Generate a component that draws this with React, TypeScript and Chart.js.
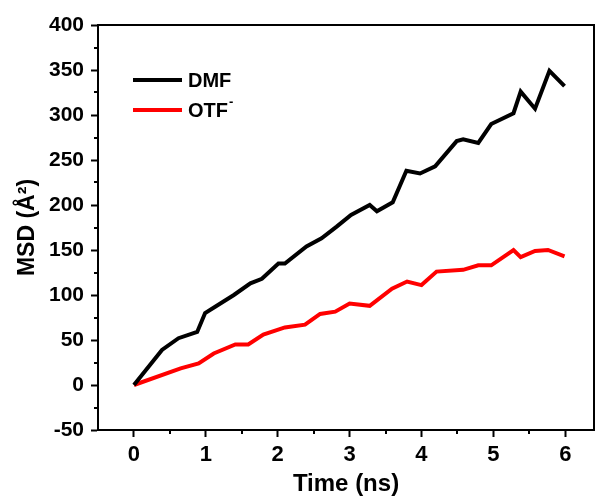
import React, { useEffect, useRef } from "react";
import { Chart, registerables } from "chart.js";

Chart.register(...registerables);

const dmfTime = [0, 0.39, 0.62, 0.88, 0.99, 1.13, 1.39, 1.62, 1.78, 2.01, 2.1, 2.4, 2.61, 2.82, 3.02, 3.28, 3.38, 3.6, 3.79, 3.98, 4.19, 4.49, 4.58, 4.79, 4.97, 5.28, 5.38, 5.58, 5.78, 5.99];
const dmfMsd = [0, 39, 52, 59, 80, 87, 100, 113, 118, 135, 135, 154, 163, 176, 189, 200, 193, 203, 238, 235, 243, 271, 273, 269, 290, 302, 326, 307, 349, 332];

const otfTime = [0, 0.65, 0.9, 1.11, 1.41, 1.59, 1.8, 2.1, 2.38, 2.59, 2.8, 3.0, 3.28, 3.59, 3.8, 4.0, 4.21, 4.58, 4.79, 4.97, 5.28, 5.38, 5.58, 5.76, 5.99];
const otfMsd = [0, 18.5, 24, 35, 45, 45, 56, 64, 67, 79, 81.5, 90.5, 88, 107, 115, 111, 126, 128, 133, 133, 150, 142, 149, 150, 143];

const xTicks = [0, 1, 2, 3, 4, 5, 6];
const xMinorTicks = [0.5, 1.5, 2.5, 3.5, 4.5, 5.5];
const yMinorTicks = [-25, 25, 75, 125, 175, 225, 275, 325, 375];

const seriesNames = ["DMF", "OTF"];
const seriesColors = ["#000000", "#ff0000"];

const FONT = "Arial, 'Liberation Sans', sans-serif";

const framePlugin = {
  id: "framePlugin",
  afterDraw(chart: any) {
    const { ctx, chartArea, scales } = chart;
    const xs = scales.x;
    const ys = scales.y;
    ctx.save();
    ctx.strokeStyle = "#000";
    ctx.lineWidth = 2;
    // top and right border
    ctx.beginPath();
    ctx.moveTo(chartArea.left - 1, chartArea.top);
    ctx.lineTo(chartArea.right, chartArea.top);
    ctx.lineTo(chartArea.right, chartArea.bottom);
    ctx.stroke();
    // minor ticks
    yMinorTicks.forEach((v) => {
      const y = Math.round(ys.getPixelForValue(v));
      ctx.beginPath();
      ctx.moveTo(chartArea.left - 4, y);
      ctx.lineTo(chartArea.left, y);
      ctx.stroke();
    });
    xMinorTicks.forEach((v) => {
      const x = Math.round(xs.getPixelForValue(v));
      ctx.beginPath();
      ctx.moveTo(x, chartArea.bottom);
      ctx.lineTo(x, chartArea.bottom + 4);
      ctx.stroke();
    });
    // legend
    const legendX = 133;
    const legendY = [80, 110];
    ctx.lineWidth = 4;
    ctx.textBaseline = "middle";
    ctx.textAlign = "left";
    seriesNames.forEach((name, i) => {
      ctx.strokeStyle = seriesColors[i];
      ctx.beginPath();
      ctx.moveTo(legendX, legendY[i]);
      ctx.lineTo(legendX + 49, legendY[i]);
      ctx.stroke();
      ctx.fillStyle = "#000";
      ctx.font = "bold 20px " + FONT;
      ctx.fillText(name, legendX + 55, legendY[i] + 1);
      if (i === 1) {
        const w = ctx.measureText(name).width;
        ctx.font = "bold 13px " + FONT;
        ctx.fillText("-", legendX + 55 + w + 1, legendY[i] - 8);
      }
    });
    ctx.restore();
  },
};

export default function App() {
  const canvasRef = useRef<HTMLCanvasElement | null>(null);

  useEffect(() => {
    const canvas = canvasRef.current;
    if (!canvas) return;
    const chart = new Chart(canvas, {
      type: "line",
      data: {
        datasets: [
          {
            label: seriesNames[0],
            data: dmfTime.map((t, i) => ({ x: t, y: dmfMsd[i] })),
            borderColor: seriesColors[0],
            borderWidth: 4,
            pointRadius: 0,
            tension: 0,
            fill: false,
          },
          {
            label: seriesNames[1],
            data: otfTime.map((t, i) => ({ x: t, y: otfMsd[i] })),
            borderColor: seriesColors[1],
            borderWidth: 4,
            pointRadius: 0,
            tension: 0,
            fill: false,
          },
        ],
      },
      options: {
        responsive: false,
        animation: false,
        devicePixelRatio: 1,
        layout: { padding: { top: 25, right: 1, left: 0, bottom: 0 } },
        plugins: {
          legend: { display: false },
          tooltip: { enabled: false },
        },
        scales: {
          x: {
            type: "linear",
            min: -0.5,
            max: 6.4,
            afterBuildTicks: (scale: any) => {
              scale.ticks = xTicks.map((v) => ({ value: v }));
            },
            afterFit: (scale: any) => {
              scale.height = 72;
            },
            border: { display: true, color: "#000", width: 2 },
            grid: {
              display: true,
              drawOnChartArea: false,
              drawTicks: true,
              tickLength: 7,
              tickColor: "#000",
              tickWidth: 2,
            },
            ticks: {
              color: "#000",
              padding: 5,
              maxRotation: 0,
              font: { family: FONT, size: 22, weight: "bold" },
              callback: (v: any) => String(v),
            },
            title: {
              display: true,
              text: "Time (ns)",
              color: "#000",
              padding: { top: 0, bottom: 3 },
              font: { family: FONT, size: 24, weight: "bold" },
            },
          },
          y: {
            type: "linear",
            min: -50,
            max: 400,
            afterFit: (scale: any) => {
              scale.width = 98;
            },
            border: { display: true, color: "#000", width: 2 },
            grid: {
              display: true,
              drawOnChartArea: false,
              drawTicks: true,
              tickLength: 7,
              tickColor: "#000",
              tickWidth: 2,
            },
            ticks: {
              stepSize: 50,
              color: "#000",
              padding: 7,
              font: { family: FONT, size: 21, weight: "bold" },
            },
            title: {
              display: true,
              text: "MSD (Å²)",
              color: "#000",
              padding: { top: 14, bottom: 0 },
              font: { family: FONT, size: 23, weight: "bold" },
            },
          },
        },
      },
      plugins: [framePlugin],
    });
    return () => chart.destroy();
  }, []);

  return (
    <div
      style={{
        position: "absolute",
        left: 0,
        top: 0,
        width: 595,
        height: 502,
        overflow: "hidden",
        background: "#fff",
      }}
    >
      <canvas ref={canvasRef} width={595} height={502} style={{ display: "block" }} />
    </div>
  );
}
